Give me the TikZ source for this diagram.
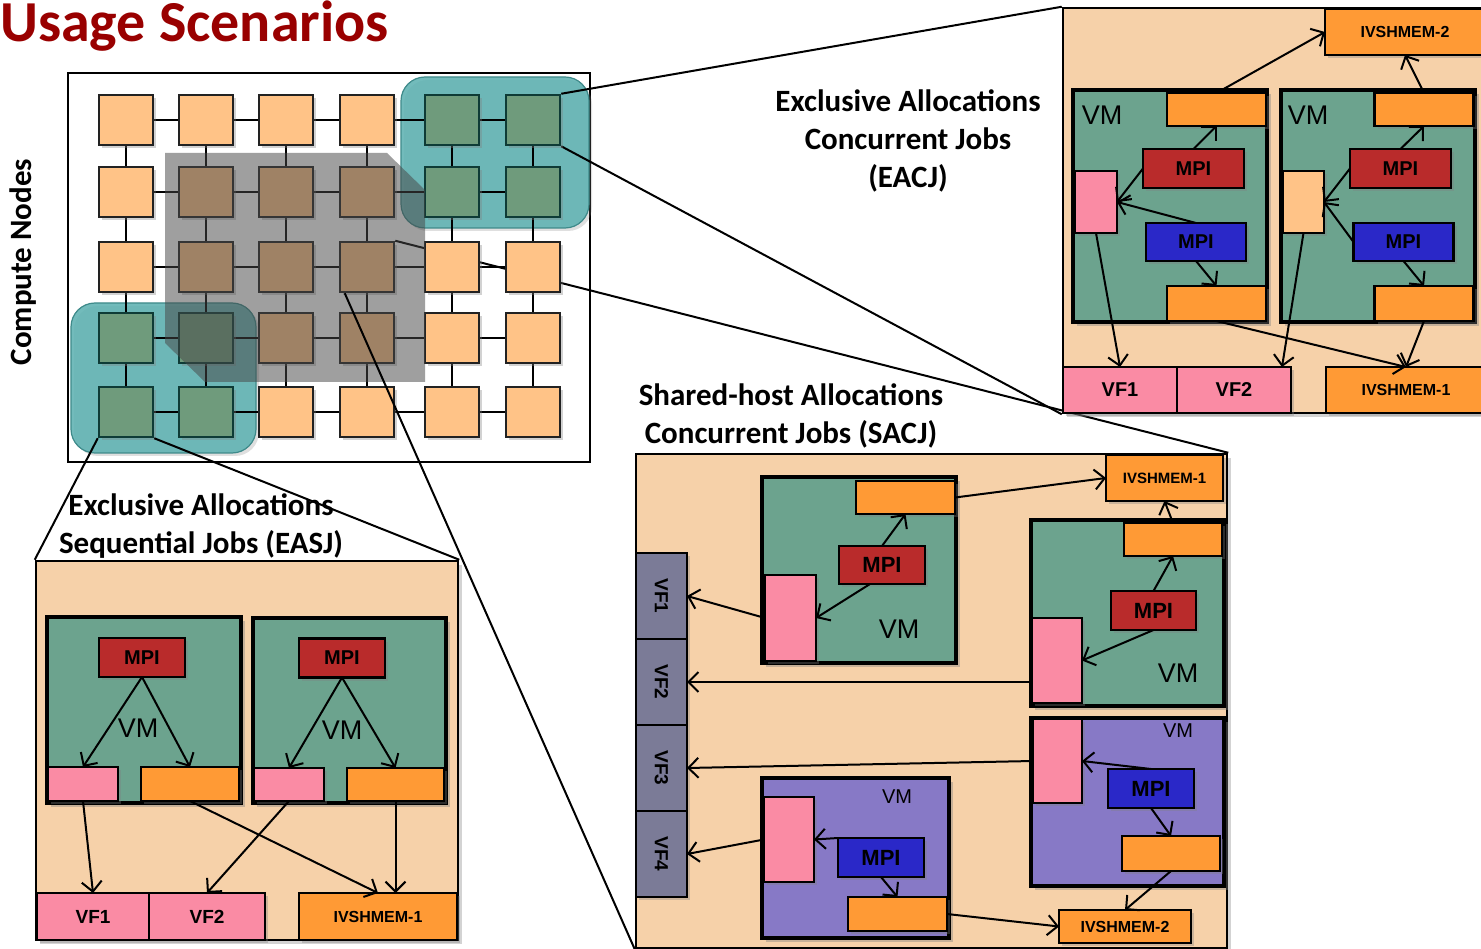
\documentclass[tikz,border=0pt]{standalone}
\usepackage{fontspec}
\setmainfont{Liberation Sans}
\newfontfamily\calib{Carlito}
\usetikzlibrary{arrows.meta, positioning, shadows}
\pgfdeclarelayer{back}
\pgfsetlayers{back,main}

\definecolor{titlered}{HTML}{990000}
\definecolor{peach}{HTML}{F6D1A9}
\definecolor{portorange}{HTML}{FF9A35}
\definecolor{cello}{HTML}{FFC387}
\definecolor{cellg}{HTML}{6F9B7C}
\definecolor{edgeo}{HTML}{222222}
\definecolor{edgeg}{HTML}{0E3B36}
\definecolor{vmgreen}{HTML}{6CA38E}
\definecolor{vmpurple}{HTML}{8779C6}
\definecolor{mpired}{HTML}{B92B2B}
\definecolor{mpiblue}{HTML}{2A28C8}
\definecolor{pinkbox}{HTML}{FA8BA4}
\definecolor{vfgray}{HTML}{7B7B97}
\definecolor{regionteal}{HTML}{5AB0B0}
\definecolor{regionedge}{HTML}{3E8A8A}
\definecolor{patchgray}{HTML}{474747}

\begin{document}
\begin{tikzpicture}[x=1pt, y=-1pt,
    dims/.style 2 args={minimum width=#1pt, minimum height=#2pt},
    gridframe/.style={rectangle, draw, line width=2pt, fill=white},
    region/.style={rectangle, rounded corners=24pt, draw=regionedge, line width=1.2pt, fill=regionteal, fill opacity=0.85, drop shadow={opacity=0.25, shadow xshift=3pt, shadow yshift=-3pt}},
    cell/.style={rectangle, line width=2.5pt, dims={54}{50}, drop shadow={opacity=0.35, shadow xshift=3pt, shadow yshift=-3pt}},
    link/.style={draw=black, line width=2.2pt},
    graypatch/.style={fill=patchgray, fill opacity=0.52},
    zoomline/.style={line width=2pt},
    headline/.style={font=\calib\bfseries\fontsize{31}{38}\selectfont, align=center},
    panel/.style={rectangle, draw, line width=2.5pt, fill=peach, drop shadow={opacity=0.35, shadow xshift=4pt, shadow yshift=-4pt}},
    vmbox/.style={rectangle, draw, line width=3.5pt, drop shadow={opacity=0.4, shadow xshift=4pt, shadow yshift=-4pt}},
    vmtext/.style={inner sep=0pt, font=\fontsize{27}{27}\selectfont},
    part/.style={rectangle, draw, line width=2.5pt, inner sep=0pt, outer sep=0pt, drop shadow={opacity=0.35, shadow xshift=3pt, shadow yshift=-3pt}},
    port/.style={part, fill=portorange},
    pinkpart/.style={part, fill=pinkbox},
    mpi/.style={part, font=\bfseries\fontsize{20}{20}\selectfont},
    vf/.style={part, fill=pinkbox, font=\bfseries\fontsize{20}{20}\selectfont},
    iv/.style={part, fill=portorange, font=\bfseries\fontsize{16}{16}\selectfont},
    arrow/.style={-{Straight Barb[length=10pt, width=20pt]}, line width=2pt}
]
\useasboundingbox (0,0) rectangle (1481,949);
\clip (0,0) rectangle (1481,949);

\node[font=\calib\bfseries\fontsize{58}{60}\selectfont, text=titlered, anchor=base west, inner sep=0pt] (title) at (0,42) {Usage Scenarios};
\node[headline, rotate=90] (cnlabel) at (23,262) {Compute Nodes};

\begin{pgfonlayer}{back}
\node[gridframe, dims={522}{389}] (grid) at (329,267.5) {};
\node[region, dims={188}{151}] (regA) at (495,152.5) {};
\node[region, dims={185}{150}] (regB) at (163.5,378) {};
\end{pgfonlayer}

\foreach \r/\yy in {1/120,2/192,3/267,4/338,5/412}
  \foreach \c/\xx in {1/126,2/206,3/286,4/367,5/452,6/533}
    \coordinate (c-\r-\c) at (\xx,\yy);
\foreach \r/\ka/\kb in {1/o/g,2/o/g,3/o/o,4/g/o,5/g/o}
  \foreach \c/\k in {1/\ka,2/\ka,3/o,4/o,5/\kb,6/\kb}
    \node[cell, fill=cell\k, draw=edge\k] (n-\r-\c) at (c-\r-\c) {};

\begin{pgfonlayer}{back}
\foreach \rr in {1,2,3,4,5}
  \foreach \ca/\cb in {1/2,2/3,3/4,4/5,5/6}
    \draw[link] (n-\rr-\ca) -- (n-\rr-\cb);
\foreach \cc in {1,2,3,4,5,6}
  \foreach \ra/\rb in {1/2,2/3,3/4,4/5}
    \draw[link] (n-\ra-\cc) -- (n-\rb-\cc);
\end{pgfonlayer}

\fill[graypatch] (165,153) -- (387,153) -- (425,190) -- (425,382) -- (205,382) -- (165,343) -- cycle;

% exclusive allocations, concurrent jobs
\node[panel, dims={422}{405}] (eacj) at (1274,210.5) {};
\node[iv, dims={160}{46}] (eiv2) at (1405,32) {IVSHMEM-2};
\node[vmbox, fill=vmgreen, dims={194}{232}] (vm1) at (1170,206) {};
\node[vmtext] (vm1l) at (1102,115) {VM};
\node[port, dims={99}{33}] (t1) at (1216.5,109.5) {};
\node[mpi, fill=mpired, dims={101}{39}] (r1) at (1193.5,168.5) {MPI};
\node[pinkpart, dims={42}{62}] (p1) at (1096,202) {};
\node[mpi, fill=mpiblue, dims={100}{38}] (b1) at (1196,242) {MPI};
\node[port, dims={99}{35}] (u1) at (1216.5,303.5) {};
\node[vmbox, fill=vmgreen, dims={194}{232}] (vm2) at (1378,206) {};
\node[vmtext] (vm2l) at (1308,115) {VM};
\node[port, dims={99}{33}] (t2) at (1424,109.5) {};
\node[mpi, fill=mpired, dims={101}{39}] (r2) at (1400.5,168.5) {MPI};
\node[part, fill=cello, dims={41}{62}] (q2) at (1303.5,202) {};
\node[mpi, fill=mpiblue, dims={100}{38}] (b2) at (1403.5,242) {MPI};
\node[port, dims={99}{35}] (u2) at (1424,303.5) {};
\node[vf, dims={114}{46}] (evf1) at (1120,390) {VF1};
\node[vf, dims={114}{46}, right=0pt of evf1] (evf2) {VF2};
\node[iv, dims={160}{46}] (eiv1) at (1406,390) {IVSHMEM-1};

\draw[arrow] (t1.north) -- (eiv2.west);
\draw[arrow] (t2.north) -- (eiv2.south);
\draw[arrow] (r1.north) -- (t1.south);
\draw[arrow] (r1.west) -- (p1.east);
\draw[arrow] (b1.north) -- (p1.east);
\draw[arrow] (b1.south) -- (u1.north);
\draw[arrow] (p1.south) -- (evf1.north);
\draw[arrow] (u1.south) -- (eiv1.north);
\draw[arrow] (r2.north) -- (t2.south);
\draw[arrow] (r2.west) -- (q2.east);
\draw[arrow] (b2.west) -- (q2.east);
\draw[arrow] (b2.south) -- (u2.north);
\draw[arrow] (q2.south) -- ([xshift=-9pt]evf2.north east);
\draw[arrow] (u2.south) -- (eiv1.north);

% shared-host allocations, concurrent jobs
\node[panel, dims={591}{494}] (sacj) at (931.5,701) {};
\node[iv, dims={117}{46}, font=\bfseries\fontsize{15}{15}\selectfont] (siv1) at (1164.5,478) {IVSHMEM-1};
\node[vmbox, fill=vmgreen, dims={194}{186}] (vma) at (859,570) {};
\node[vmtext] (vmal) at (899,629) {VM};
\node[port, dims={99}{33}] (oa) at (905.5,497.5) {};
\node[mpi, fill=mpired, dims={86}{38}, font=\bfseries\fontsize{22}{22}\selectfont] (ra) at (882,565) {MPI};
\node[pinkpart, dims={51}{86}] (pa) at (790.5,618) {};
\node[vmbox, fill=vmgreen, dims={193}{186}] (vmb) at (1127.5,613) {};
\node[vmtext] (vmbl) at (1178,673) {VM};
\node[port, dims={98}{33}] (ob) at (1173,539.5) {};
\node[mpi, fill=mpired, dims={85}{39}, font=\bfseries\fontsize{22}{22}\selectfont] (rb) at (1153.5,610.5) {MPI};
\node[pinkpart, dims={50}{85}] (pb) at (1057,660.5) {};
\node[vmbox, fill=vmpurple, dims={193}{168}] (vmc) at (1127.5,802) {};
\node[vmtext, font=\fontsize{20}{20}\selectfont] (vmcl) at (1178,731) {VM};
\node[pinkpart, dims={49}{84}] (pc) at (1057.5,761) {};
\node[mpi, fill=mpiblue, dims={86}{39}, font=\bfseries\fontsize{22}{22}\selectfont] (bc) at (1151,788.5) {MPI};
\node[port, dims={98}{35}] (oc) at (1171,853.5) {};
\node[vmbox, fill=vmpurple, dims={187}{160}] (vmd) at (855.5,858) {};
\node[vmtext, font=\fontsize{20}{20}\selectfont] (vmdl) at (897,797) {VM};
\node[pinkpart, dims={50}{85}] (pd) at (789,839.5) {};
\node[mpi, fill=mpiblue, dims={86}{39}, font=\bfseries\fontsize{22}{22}\selectfont] (bd) at (881,857.5) {MPI};
\node[port, dims={99}{34}] (od) at (897.5,914) {};
\node[iv, dims={132}{33}] (siv2) at (1125,926.5) {IVSHMEM-2};
\node[vf, fill=vfgray, dims={51}{86}, font=\bfseries\fontsize{19}{19}\selectfont] (svf1) at (661.5,596) {\rotatebox{-90}{VF1}};
\node[vf, fill=vfgray, dims={51}{86}, font=\bfseries\fontsize{19}{19}\selectfont, below=0pt of svf1] (svf2) {\rotatebox{-90}{VF2}};
\node[vf, fill=vfgray, dims={51}{86}, font=\bfseries\fontsize{19}{19}\selectfont, below=0pt of svf2] (svf3) {\rotatebox{-90}{VF3}};
\node[vf, fill=vfgray, dims={51}{86}, font=\bfseries\fontsize{19}{19}\selectfont, below=0pt of svf3] (svf4) {\rotatebox{-90}{VF4}};

\draw[arrow] (oa.east) -- (siv1.west);
\draw[arrow] (ra.north) -- (oa.south);
\draw[arrow] ([xshift=-12pt]ra.south) -- (pa.east);
\draw[arrow] (pa.west) -- (svf1.east);
\draw[arrow] (ob.north) -- (siv1.south);
\draw[arrow] (rb.north) -- (ob.south);
\draw[arrow] (rb.south) -- (pb.east);
\draw[arrow] (svf2.east -| pb.west) -- (svf2.east);
\draw[arrow] (pc.west) -- (svf3.east);
\draw[arrow] (bc.north) -- (pc.east);
\draw[arrow] (bc.south) -- (oc.north);
\draw[arrow] (oc.south) -- (siv2.north);
\draw[arrow] (pd.west) -- (svf4.east);
\draw[arrow] (bd.north west) -- (pd.east);
\draw[arrow] (bd.south) -- (od.north);
\draw[arrow] (od.east) -- (siv2.west);

% exclusive allocations, sequential jobs
\node[panel, dims={422}{379}] (easj) at (247,750.5) {};
\node[vmbox, fill=vmgreen, dims={194}{186}] (vme1) at (144,710) {};
\node[vmtext] (vme1l) at (138,728) {VM};
\node[mpi, fill=mpired, dims={86}{39}] (re1) at (142,657.5) {MPI};
\node[pinkpart, dims={70}{34}] (pe1) at (83,784) {};
\node[port, dims={98}{34}] (oe1) at (190,784) {};
\node[vmbox, fill=vmgreen, dims={193}{185}] (vme2) at (349.5,710.5) {};
\node[vmtext] (vme2l) at (342,730) {VM};
\node[mpi, fill=mpired, dims={86}{39}] (re2) at (342,658) {MPI};
\node[pinkpart, dims={70}{33}] (pe2) at (289,784.5) {};
\node[port, dims={97}{33}] (oe2) at (395.5,784.5) {};
\node[vf, dims={112}{47}, font=\bfseries\fontsize{19}{19}\selectfont] (avf1) at (93,916.5) {VF1};
\node[vf, dims={116}{47}, font=\bfseries\fontsize{19}{19}\selectfont, right=0pt of avf1] (avf2) {VF2};
\node[iv, dims={158}{47}] (aiv1) at (378,916.5) {IVSHMEM-1};

\draw[arrow] (re1.south) -- (pe1.north);
\draw[arrow] (re1.south) -- (oe1.north);
\draw[arrow] (re2.south) -- (pe2.north);
\draw[arrow] (re2.south) -- (oe2.north);
\draw[arrow] (pe1.south) -- (avf1.north);
\draw[arrow] (pe2.south) -- (avf2.north);
\draw[arrow] (oe1.south) -- (aiv1.north);
\draw[arrow] (oe2.south) -- (oe2.south |- aiv1.north);

% zoom lines
\draw[zoomline] ([xshift=6pt]n-3-4.south west) -- (sacj.south west);
\draw[zoomline] (n-5-1.south west) -- (easj.north west);
\draw[zoomline] (n-5-1.south east) -- (easj.north east);
\begin{pgfonlayer}{back}
\draw[zoomline] (n-1-6.north east) -- (eacj.north west);
\draw[zoomline] (n-1-6.south east) -- (eacj.south west);
\draw[zoomline] (n-3-4.north east) -- (sacj.north east);
\end{pgfonlayer}

\node[headline] (eacjlabel) at (908,141) {Exclusive Allocations\\Concurrent Jobs\\(EACJ)};
\node[headline] (sacjlabel) at (791,416) {Shared-host Allocations\\Concurrent Jobs (SACJ)};
\node[headline] (easjlabel) at (201,526) {Exclusive Allocations\\Sequential Jobs (EASJ)};
\end{tikzpicture}
\end{document}
